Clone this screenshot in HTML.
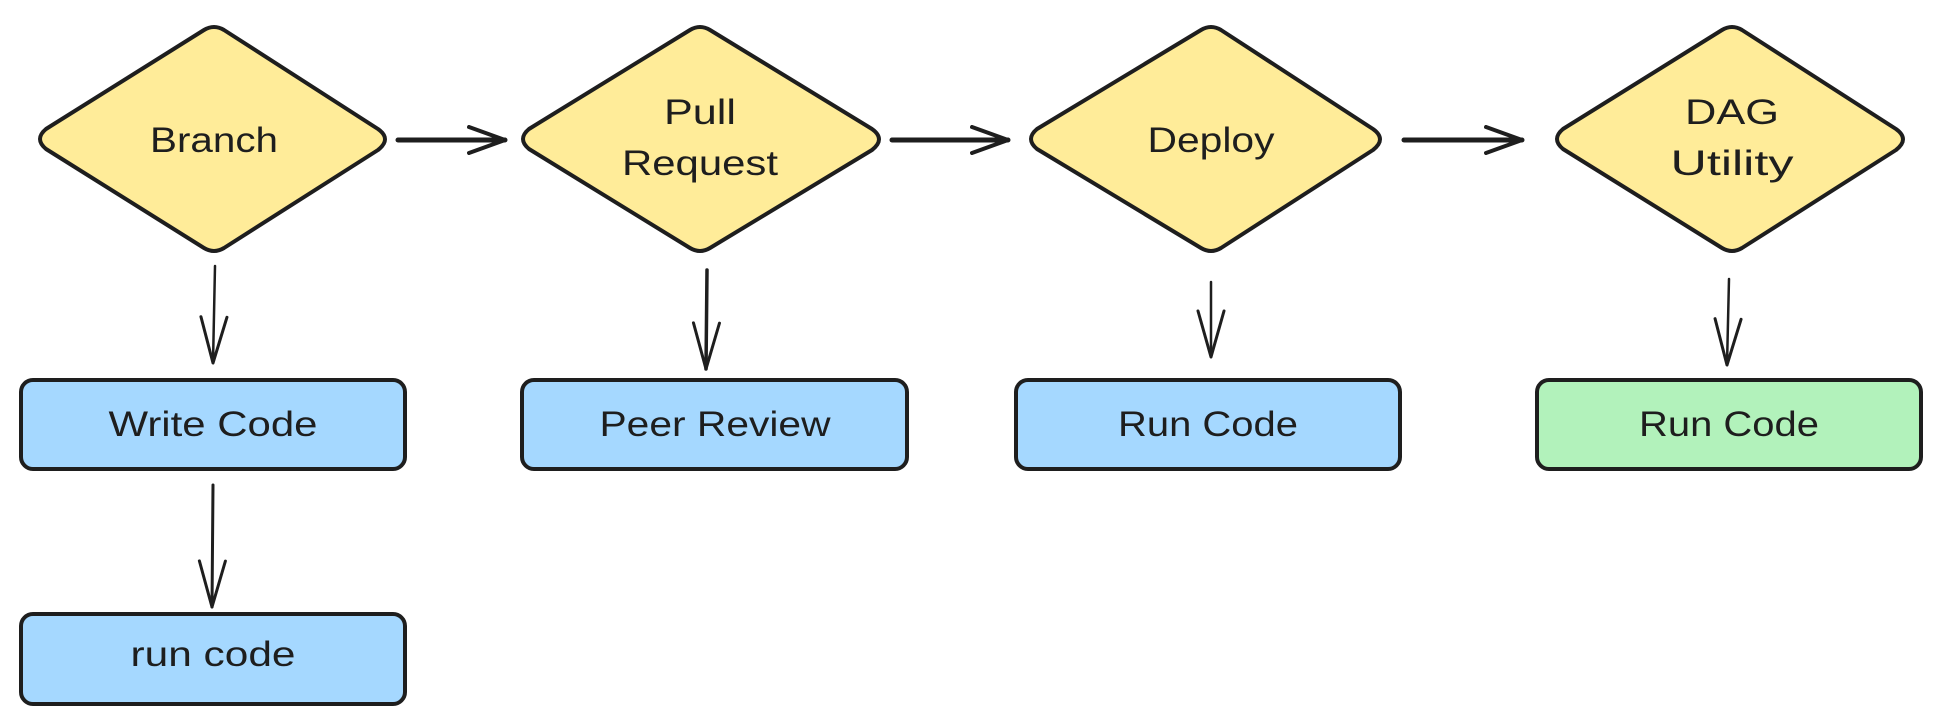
<!DOCTYPE html>
<html><head><meta charset="utf-8"><style>html,body{margin:0;padding:0;background:#fff;}svg{display:block}</style></head>
<body>
<svg width="1941" height="719" viewBox="0 0 1941 719" xmlns="http://www.w3.org/2000/svg">
<defs>
<marker id="ah" viewBox="0 0 40 30" refX="38" refY="15" markerWidth="40" markerHeight="30" markerUnits="userSpaceOnUse" orient="auto">
<path d="M2,2 L38,15 L2,28" fill="none" stroke="#1e1e1e" stroke-width="4" stroke-linecap="round" stroke-linejoin="round"/>
</marker>
<marker id="av" viewBox="0 0 50 30" refX="48" refY="15" markerWidth="50" markerHeight="30" markerUnits="userSpaceOnUse" orient="auto">
<path d="M2,2 L48,15 L2,28" fill="none" stroke="#1e1e1e" stroke-width="3" stroke-linecap="round" stroke-linejoin="round"/>
</marker>
</defs>
<g stroke="#1e1e1e" stroke-width="4" stroke-linejoin="round" fill="#ffec99">
<path d="M46,149 Q34,139 46,129 L204,30 Q214,24 224,30 L378,129 Q392,139 378,150 L224,248 Q214,254 204,248 Z"/>
<path d="M529,149 Q517,139 529,129 L690,30 Q700,24 710,30 L872,129 Q886,139 872,150 L710,248 Q700,254 690,248 Z"/>
<path d="M1037,149 Q1025,139 1037,129 L1201,30 Q1211,24 1221,30 L1373,129 Q1387,139 1373,150 L1221,248 Q1211,254 1201,248 Z"/>
<path d="M1563,149 Q1551,139 1563,129 L1722,30 Q1732,24 1742,30 L1896,129 Q1910,139 1896,150 L1742,248 Q1732,254 1722,248 Z"/>
</g>
<g stroke="#1e1e1e" stroke-width="4">
<rect x="21" y="380" width="384" height="89" rx="12" fill="#a5d8ff"/>
<rect x="522" y="380" width="385" height="89" rx="12" fill="#a5d8ff"/>
<rect x="1016" y="380" width="384" height="89" rx="12" fill="#a5d8ff"/>
<rect x="1537" y="380" width="384" height="89" rx="12" fill="#b2f2bb"/>
<rect x="21" y="614" width="384" height="90" rx="12" fill="#a5d8ff"/>
</g>
<g stroke="#1e1e1e" fill="none" stroke-linecap="round">
<line x1="398" y1="140" x2="505" y2="140" stroke-width="5" marker-end="url(#ah)"/>
<line x1="892" y1="140" x2="1008" y2="140" stroke-width="5" marker-end="url(#ah)"/>
<line x1="1404" y1="140" x2="1522" y2="140" stroke-width="5" marker-end="url(#ah)"/>
<line x1="215" y1="266" x2="213" y2="363" stroke-width="2.5" marker-end="url(#av)"/>
<line x1="707" y1="270" x2="706" y2="369" stroke-width="3.5" marker-end="url(#av)"/>
<line x1="1211" y1="282" x2="1211" y2="357" stroke-width="2.5" marker-end="url(#av)"/>
<line x1="1729" y1="279" x2="1727" y2="365" stroke-width="2.5" marker-end="url(#av)"/>
<line x1="213" y1="485" x2="212" y2="607" stroke-width="3" marker-end="url(#av)"/>
</g>
<g font-family="'Liberation Sans', sans-serif" font-size="35" fill="#1e1e1e" text-anchor="middle">
<text x="214" y="152" textLength="128" lengthAdjust="spacingAndGlyphs">Branch</text>
<text x="700" y="124" textLength="72" lengthAdjust="spacingAndGlyphs">Pull</text>
<text x="700" y="175" textLength="156" lengthAdjust="spacingAndGlyphs">Request</text>
<text x="1211" y="152" textLength="127" lengthAdjust="spacingAndGlyphs">Deploy</text>
<text x="1732" y="124" textLength="94" lengthAdjust="spacingAndGlyphs">DAG</text>
<text x="1732" y="175" textLength="123" lengthAdjust="spacingAndGlyphs">Utility</text>
<text x="213" y="436" textLength="209" lengthAdjust="spacingAndGlyphs">Write Code</text>
<text x="715" y="436" textLength="231" lengthAdjust="spacingAndGlyphs">Peer Review</text>
<text x="1208" y="436" textLength="180" lengthAdjust="spacingAndGlyphs">Run Code</text>
<text x="1729" y="436" textLength="180" lengthAdjust="spacingAndGlyphs">Run Code</text>
<text x="213" y="666" textLength="165" lengthAdjust="spacingAndGlyphs">run code</text>
</g>
</svg>
</body></html>
